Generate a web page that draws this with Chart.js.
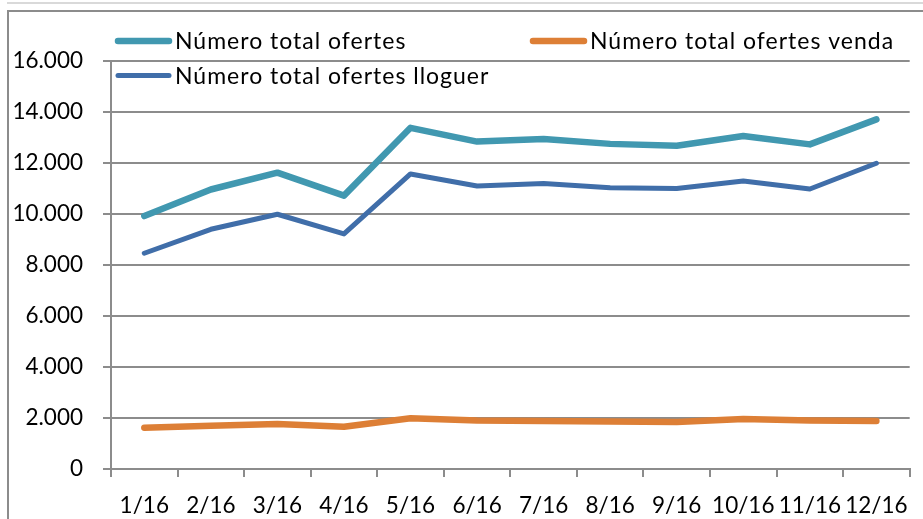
<!DOCTYPE html>
<html>
<head>
<meta charset="utf-8">
<script src="https://cdn.jsdelivr.net/npm/chart.js@4.4.0/dist/chart.umd.min.js"></script>
<style>
  html, body { margin: 0; padding: 0; background: #fff; overflow: hidden; }
  #wrap { position: relative; width: 923px; height: 519px; }
  .topline { position: absolute; left: 7px; top: 2px; width: 916px; height: 2px; background: #d9d9d9; }
  .frame { position: absolute; left: 7px; top: 10px; width: 1000px; height: 600px; border: 2px solid #8c8c8c; box-sizing: border-box; }
  canvas { position: absolute; left: 0; top: 0; }
</style>
</head>
<body>
<div id="wrap">
  <div class="topline"></div>
  <div class="frame"></div>
  <canvas id="ofertesChart" width="923" height="519"></canvas>
</div>
<script>
// months
const months = ['1/16', '2/16', '3/16', '4/16', '5/16', '6/16', '7/16', '8/16', '9/16', '10/16', '11/16', '12/16'];
// series values
const totalOfertes = [9920, 10960, 11620, 10720, 13380, 12840, 12940, 12750, 12680, 13060, 12730, 13710];
const ofertesVenda = [1620, 1700, 1760, 1660, 1990, 1900, 1880, 1860, 1840, 1960, 1900, 1880];
const ofertesLloguer = [8460, 9400, 9990, 9220, 11570, 11100, 11200, 11030, 11000, 11290, 10980, 11990];
// y tick labels
const yTickLabels = ['0', '2.000', '4.000', '6.000', '8.000', '10.000', '12.000', '14.000', '16.000'];

const gridColor = '#8c8c8c';
const font = { family: 'Lato', size: 22 };

// legend in two columns, drawn over the top of the plot
const twoColLegend = {
  id: 'twoColLegend',
  afterDraw(chart) {
    const ctx = chart.ctx;
    const left = chart.chartArea.left;
    ctx.save();
    ctx.font = '23px Lato';
    ctx.letterSpacing = '1px';
    ctx.fillStyle = '#000';
    ctx.textBaseline = 'alphabetic';
    chart.data.datasets.forEach((ds, i) => {
      const x = i % 2 === 0 ? left + 4 : left + 419;
      const y = i < 2 ? 41 : 75.5;
      ctx.strokeStyle = ds.borderColor;
      ctx.lineWidth = ds.borderWidth;
      ctx.lineCap = 'round';
      ctx.beginPath();
      ctx.moveTo(x + 3, y);
      ctx.lineTo(x + 54, y);
      ctx.stroke();
      ctx.fillText(ds.label, x + 60, y + 8);
    });
    ctx.restore();
  }
};

function draw() {
  const ctx = document.getElementById('ofertesChart').getContext('2d');
  new Chart(ctx, {
    type: 'line',
    data: {
      labels: months,
      datasets: [
        { label: 'Número total ofertes', data: totalOfertes, borderColor: '#4198B0', borderWidth: 6.5 },
        { label: 'Número total ofertes venda', data: ofertesVenda, borderColor: '#DD7F36', borderWidth: 6.5 },
        { label: 'Número total ofertes lloguer', data: ofertesLloguer, borderColor: '#406EA9', borderWidth: 5 }
      ].map(d => Object.assign(d, {
        pointRadius: 0, tension: 0, fill: false,
        borderCapStyle: 'round', borderJoinStyle: 'round'
      }))
    },
    options: {
      responsive: false,
      animation: false,
      layout: { padding: { top: 61, right: 10, left: 0, bottom: 0 } },
      plugins: { legend: { display: false }, tooltip: { enabled: false } },
      scales: {
        x: {
          offset: true,
          grid: { offset: true, drawOnChartArea: false, drawTicks: true, tickLength: 8, color: gridColor, lineWidth: 2 },
          border: { color: gridColor, width: 2 },
          ticks: { font: { family: 'Lato', size: 22.5 }, color: '#000', padding: 15, maxRotation: 0, autoSkip: false },
          afterFit(s) { s.height = 50; }
        },
        y: {
          min: 0,
          max: 16000,
          grid: { color: gridColor, lineWidth: 2, tickLength: 8 },
          border: { color: gridColor, width: 2 },
          ticks: {
            stepSize: 2000, font: { family: 'Lato', size: 22.5 }, color: '#000', padding: 20,
            callback: (v, i) => yTickLabels[i]
          },
          afterFit(s) { s.width = 111; }
        }
      }
    },
    plugins: [twoColLegend]
  });
}

document.fonts.load('22px Lato').then(draw, draw);
</script>
</body>
</html>
